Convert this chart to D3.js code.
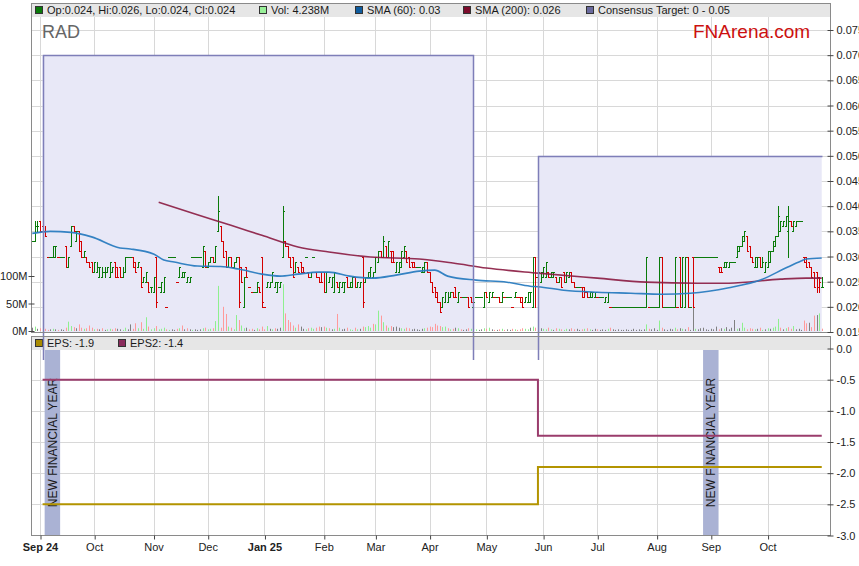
<!DOCTYPE html>
<html><head><meta charset="utf-8">
<script src="https://cdn.jsdelivr.net/npm/d3@7/dist/d3.min.js"></script>
<style>body{margin:0;background:#fff;} svg{display:block;font-family:Arial,"Liberation Sans",Helvetica,sans-serif;}</style>
</head><body>
<svg id="c" width="859" height="566"></svg>
<script>
// ---------- DATA ----------
// bar index = weekday count from Mon 2 Sep 2024 (index 0); first bar is index -3 (28 Aug 2024)
const firstIndex = -3;
// OHLC in thousandths of a dollar (0.001)
const ohlc = [
[33,33,33,33],[33,37,33,36],[36,37,35,36],[37,37,35,35],[36,37,35,35],[35,36,34,34],[30,30,30,30],[30,30,30,30],[30,32,30,32],[30,32,30,32],
[30,30,30,30],[30,30,30,30],[30,30,30,30],[32,32,28,28],[28,30,28,30],[32,36,32,36],[36,36,35,35],[33,35,33,35],[35,35,31,31],[33,33,30,30],
[30,31,30,31],[30,30,29,29],[29,29,28,28],[29,29,27,27],[27,29,27,29],[27,29,27,28],[26,28,26,28],[26,28,26,27],[27,28,26,27],[27,28,27,28],
[26,29,26,29],[27,28,27,28],[29,29,26,26],[28,28,26,26],[28,28,26,26],[26,28,26,27],[27,30,27,30],[30,30,30,30],[30,30,30,30],[30,30,28,28],
[29,29,27,27],[28,29,28,29],[28,28,24,24],[25,26,25,26],[25,27,25,27],[25,25,23,23],[24,24,23,24],[23,26,23,26],[30,30,20,21],[24,24,24,24],
[23,25,23,25],[23,26,23,26],[20,20,20,20],[30,30,30,30],[30,30,30,30],[30,30,30,30],[25,25,25,25],[26,28,26,28],[26,27,26,27],[26,27,26,27],
[25,26,25,26],[25,26,25,26],[30,30,30,30],[30,30,30,30],[30,30,30,30],[30,30,30,30],[28,32,28,32],[31,31,28,28],[28,29,28,29],[29,30,29,30],
[30,30,29,29],[29,32,29,32],[35,42,35,39],[36,36,33,33],[33,33,30,30],[31,31,28,28],[28,30,28,30],[30,30,28,28],[28,29,28,29],[29,30,29,30],
[30,30,20,21],[28,28,25,25],[20,26,20,26],[28,28,26,26],[24,24,24,24],[23,23,23,23],[23,23,23,23],[23,25,23,25],[24,24,23,23],[30,30,20,21],
[20,20,20,20],[24,25,24,25],[24,25,24,25],[25,27,25,27],[24,25,24,25],[23,25,23,25],[24,25,24,25],[30,40,30,39],[33,33,32,32],[32,32,30,30],
[30,30,28,28],[30,30,26,26],[27,29,27,29],[28,28,27,27],[29,29,27,27],[28,28,27,27],[30,30,30,30],[27,27,26,26],[26,27,26,27],[30,30,30,30],
[27,27,26,26],[26,26,25,25],[27,27,25,25],[27,27,23,23],[23,27,23,27],[25,26,25,26],[24,26,24,26],[23,27,23,27],[25,25,24,24],[23,25,23,25],
[24,25,24,25],[23,25,23,25],[26,26,24,24],[24,25,24,25],[24,26,24,26],[26,26,24,24],[24,25,24,25],[24,25,24,25],[30,30,20,21],[25,26,25,26],
[26,27,26,27],[26,28,26,28],[26,27,26,27],[27,30,27,30],[29,31,29,31],[31,31,30,30],[30,34,30,33],[32,32,30,30],[30,33,30,33],[31,31,29,29],
[31,31,29,29],[27,29,27,29],[27,29,27,29],[28,31,28,31],[30,32,30,32],[31,31,29,29],[30,30,28,28],[29,29,28,28],[29,29,28,28],[28,28,28,28],
[28,28,28,28],[27,28,27,28],[27,29,27,29],[29,29,27,27],[27,27,25,25],[25,25,23,23],[24,24,22,22],[23,23,21,21],[21,21,19,19],[20,22,20,22],
[21,23,21,23],[21,23,21,22],[22,23,22,23],[23,23,22,22],[24,24,22,22],[21,23,21,23],[22,22,22,22],[22,22,22,22],[22,22,22,22],[22,22,20,20],
[22,22,21,21],[20,21,20,21],[22,22,22,22],[22,22,22,22],[22,22,22,22],[20,23,20,23],[23,23,22,22],[21,23,21,23],[22,23,22,23],[22,22,22,22],
[22,22,22,22],[22,22,21,21],[21,23,21,23],[22,22,22,22],[22,22,22,22],[22,22,22,22],[20,20,20,20],[22,23,22,23],[22,22,22,22],[22,22,21,21],
[22,22,20,20],[21,22,21,22],[21,23,21,23],[21,23,21,23],[20,30,20,30],[30,30,20,26],[26,27,25,27],[25,27,25,27],[26,28,26,28],[26,29,26,29],
[27,27,26,26],[26,27,26,27],[26,27,26,27],[26,26,25,25],[25,26,25,26],[26,26,24,24],[27,27,25,25],[25,27,25,27],[26,27,26,27],[27,27,25,25],
[25,25,24,24],[24,24,24,24],[24,24,24,24],[24,24,22,22],[24,24,22,23],[23,23,22,22],[22,23,22,23],[22,23,22,23],[22,23,22,23],[22,22,22,22],
[22,22,22,22],[22,22,22,22],[21,22,21,22],[21,23,21,23],[20,20,20,20],[20,20,20,20],[20,20,20,20],[20,20,20,20],[20,20,20,20],[20,20,20,20],
[20,20,20,20],[20,20,20,20],[20,20,20,20],[20,20,20,20],[20,20,20,20],[20,20,20,20],[20,20,20,20],[20,20,20,20],[20,30,20,30],[20,20,20,20],
[20,20,20,20],[20,20,20,20],[20,20,20,20],[20,30,20,30],[30,30,20,20],[20,20,20,20],[20,20,20,20],[20,20,20,20],[20,20,20,20],[20,30,20,30],
[20,20,20,20],[30,30,20,20],[20,30,20,30],[20,30,20,30],[30,30,20,20],[20,20,20,20],[30,30,20,20],[30,30,30,30],[30,30,30,30],[30,30,30,30],
[30,30,30,30],[30,30,30,30],[30,30,30,30],[30,30,30,30],[30,30,30,30],[30,30,30,30],[28,28,27,27],[28,28,27,27],[28,29,28,29],[28,29,28,29],
[28,29,28,29],[29,29,29,29],[29,29,29,29],[30,32,30,32],[31,32,31,32],[32,34,32,34],[33,35,33,35],[34,34,31,31],[32,32,30,30],[30,30,29,29],
[28,30,28,30],[28,30,28,30],[30,30,28,28],[28,30,28,29],[27,29,27,29],[28,31,28,31],[29,31,29,31],[31,33,31,33],[32,34,32,34],[34,40,34,38],
[35,37,35,37],[36,37,36,37],[36,38,36,38],[35,40,30,37],[37,37,36,36],[35,37,35,37],[36,37,36,37],[37,37,37,37],[37,37,37,37],[30,30,29,29],
[30,30,28,28],[29,29,28,28],[28,28,26,26],[27,27,24,24],[27,27,23,24],[26,26,23,25],[24,26,24,24]
];
// volume, millions
const volumes = [
6,8,4,5,3,4,2,3,4,3, 2,3,2,6,17,9,7,5,12,6, 4,5,10,6,3,4,3,5,2,3, 4,3,5,4,3,2,6,3,12,4,
14,5,16,4,25,8,3,5,9,3, 4,6,3,2,3,2,4,5,10,3, 5,3,2,3,2,3,5,6,3,4, 5,18,82,6,44,31,8,6,3,29,
20,10,5,6,3,4,2,5,3,8, 3,9,4,3,5,4,6,85,32,20, 16,10,6,12,8,4,3,5,6,4, 6,8,7,8,6,5,3,4,31,6,
3,4,6,3,2,6,3,4,8,7, 9,6,13,12,37,28,16,10,6,9, 7,8,6,5,4,6,5,3,4,3, 2,4,5,6,8,7,13,10,9,7,
8,5,3,4,6,5,3,2,3,5, 4,6,3,2,3,5,4,6,3,2, 2,3,4,2,3,2,4,3,2,3, 5,4,3,6,8,6,3,5,4,3,
6,3,2,5,4,3,2,4,3,5, 3,4,2,3,4,5,3,2,4,3, 2,3,2,4,6,3,2,3,2,2, 3,2,2,4,2,3,2,3,12,4,
3,5,2,19,6,3,2,4,3,6, 3,5,4,3,7,2,55,4,3,5, 6,3,2,4,3,8,3,5,4,7, 3,6,20,4,5,15,6,3,5,4,
3,4,6,2,3,5,4,6,8,22, 6,3,5,7,4,9,3,4,2,19, 14,15,7,28,29,32,4.238
];
const sma60Idx = [-3,4,12,20,31,35,44,48,52,61,70,77,86,93,100,108,112,120,129,138,147,153,158,169,181,190,193,203,216,229,241,252,267,280,289,295,297,303];
const sma60Val = [.0346,.0350,.0348,.0339,.0317,.0315,.0305,.0293,.0289,.0281,.0280,.0275,.0265,.0261,.0265,.0269,.0269,.0261,.0257,.0263,.0271,.0273,.0261,.0253,.0249,.0241,.0240,.0233,.0229,.0227,.0225,.0227,.0238,.0255,.0277,.0291,.0295,.0297];
const sma200Idx = [46,61,74,86,100,112,128,147,160,173,193,216,235,255,267,287,297,303];
const sma200Val = [.0408,.0383,.0362,.0342,.0319,.0309,.0299,.0295,.0287,.0277,.0267,.0257,.0249,.0247,.0247,.0255,.0257,.0257];
const targetStart = [1,193], targetEnd = [168,303], targetHigh = [0.07,0.05], targetLow = [0,0];
const epsIdx = [1,193,303];
const eps1 = [-2.5,-1.9,-1.9];
const eps2 = [-0.5,-1.4,-1.4];
const fyStart = [1.8,257], fyEnd = [7.8,263];
const fyLabel = "NEW FINANCIAL YEAR";
const monthIdx = [0,21,44,65,87,110,130,151,173,195,216,239,260,282];
const monthLabels = ["Sep 24","Oct","Nov","Dec","Jan 25","Feb","Mar","Apr","May","Jun","Jul","Aug","Sep","Oct"];
const boldLabels = ["Sep 24","Jan 25"];
const priceTicks = [0.015,0.02,0.025,0.03,0.035,0.04,0.045,0.05,0.055,0.06,0.065,0.07,0.075];
const epsTicks = [0,-0.5,-1,-1.5,-2,-2.5,-3];
const volTicks = [0,50,100];
const legendTop = ["Op:0.024, Hi:0.026, Lo:0.024, Cl:0.024","Vol: 4.238M","SMA (60): 0.03","SMA (200): 0.026","Consensus Target: 0 - 0.05"];
const legendTopColors = ["#0a7a0a","#98f098","#0f5c9e","#7c0c2c","#6a6a9e"];
const legendBottom = ["EPS: -1.9","EPS2: -1.4"];
const legendBottomColors = ["#a88a00","#8a2c5c"];

// ---------- LAYOUT ----------
const L = 31, R = 831, T1 = 3, B1 = 332, T2 = 336, B2 = 535;
const svg = d3.select("#c");
const x = d3.scaleLinear().domain([-3.49, 306.2]).range([31, 830]);
const yP = d3.scaleLinear().domain([0.015, 0.075]).range([332, 30]);
const yV = d3.scaleLinear().domain([0, 100]).range([331, 276]);
const yE = d3.scaleLinear().domain([0, -3]).range([348.5, 535.5]);

const defs = svg.append("defs");
defs.append("clipPath").attr("id","cp1").append("rect").attr("x",L).attr("y",T1).attr("width",R-L).attr("height",B1-T1);
defs.append("clipPath").attr("id","cp2").append("rect").attr("x",L).attr("y",T2).attr("width",R-L).attr("height",B2-T2);
defs.append("clipPath").attr("id","cpT").append("rect").attr("x",L).attr("y",T1).attr("width",R-L).attr("height",360-T1);

// ---------- UPPER PANEL ----------
const up = svg.append("g").attr("clip-path","url(#cp1)");
up.append("rect").attr("x",L).attr("y",T1).attr("width",R-L).attr("height",B1-T1).attr("fill","#fff");
up.selectAll("line.hg").data(priceTicks.slice(1)).join("line")
  .attr("x1",L).attr("x2",R).attr("y1",d=>Math.round(yP(d))+0.5).attr("y2",d=>Math.round(yP(d))+0.5)
  .attr("stroke","#d8d8d8");
up.selectAll("line.vg").data(monthIdx).join("line")
  .attr("x1",d=>Math.round(x(d))+0.5).attr("x2",d=>Math.round(x(d))+0.5).attr("y1",T1).attr("y2",B1)
  .attr("stroke","#d8d8d8");

const targets = targetStart.map((s,k)=>({s, e:targetEnd[k], hi:targetHigh[k], lo:targetLow[k], open:k===targetStart.length-1}));
up.selectAll("rect.tgt").data(targets).join("rect")
  .attr("x",d=>x(d.s)).attr("width",d=>x(d.e)-x(d.s))
  .attr("y",d=>yP(d.hi)).attr("height",d=>yP(d.lo)-yP(d.hi))
  .attr("fill","#e8e8f7");

up.append("text").attr("x",42).attr("y",38).attr("font-size",18).attr("fill","#666").text("RAD");
up.append("text").attr("x",693).attr("y",38).attr("font-size",19).attr("fill","#cc1010").text("FNArena.com");

// bars data
const bars = ohlc.map((d,k)=>({i:firstIndex+k,o:d[0]/1000,h:d[1]/1000,l:d[2]/1000,c:d[3]/1000,v:volumes[k]}));
bars.forEach((b,k)=>{ const pc = k ? bars[k-1].c : b.o; b.dir = b.c>pc+1e-9 ? 1 : (b.c<pc-1e-9 ? -1 : 0); });
const barColor = b => (b.h===b.l) ? (b.dir<0 ? "#d40000" : "#0a7a0a") : (b.c>=b.o ? "#0a7a0a" : "#d40000");

// volume
up.selectAll("rect.vol").data(bars).join("rect")
  .attr("x",d=>Math.round(x(d.i))).attr("width",1)
  .attr("y",d=>yV(d.v)).attr("height",d=>yV(0)-yV(d.v))
  .attr("fill",d=>d.dir>0?"#8ef08e":(d.dir<0?"#ff9a9a":"#808080"));

// OHLC bars
up.selectAll("path.bar").data(bars).join("path")
  .attr("d",d=>{
    const cx = Math.round(x(d.i))+0.5;
    const yo = Math.round(yP(d.o))+0.5, yc = Math.round(yP(d.c))+0.5;
    const yh = Math.round(yP(d.h)), yl = Math.round(yP(d.l))+1;
    let p = `M${cx-1.5},${yo}H${cx}M${cx},${yc}H${cx+1.5}`;
    if (d.h!==d.l) p += `M${cx},${yh}V${yl}`;
    return p;
  })
  .attr("fill","none").attr("stroke",barColor).attr("stroke-width",1).attr("shape-rendering","crispEdges");

// SMA lines
const smaLine = d3.line().x(d=>x(d[0])).y(d=>yP(d[1])).curve(d3.curveMonotoneX);
up.append("path").datum(sma200Idx.map((d,k)=>[d,sma200Val[k]]))
  .attr("d",smaLine).attr("fill","none").attr("stroke","#8a1a40").attr("stroke-width",1.6).attr("stroke-opacity",0.9);
up.append("path").datum(sma60Idx.map((d,k)=>[d,sma60Val[k]]))
  .attr("d",smaLine).attr("fill","none").attr("stroke","#2a7cc0").attr("stroke-width",1.6).attr("stroke-opacity",0.95);

// ---------- LOWER PANEL ----------
const lo = svg.append("g").attr("clip-path","url(#cp2)");
lo.append("rect").attr("x",L).attr("y",T2).attr("width",R-L).attr("height",B2-T2).attr("fill","#fff");
lo.selectAll("line.hg").data(epsTicks.slice(1,-1)).join("line")
  .attr("x1",L).attr("x2",R).attr("y1",d=>Math.round(yE(d))+0.5).attr("y2",d=>Math.round(yE(d))+0.5)
  .attr("stroke","#d8d8d8");
lo.selectAll("line.vg").data(monthIdx).join("line")
  .attr("x1",d=>Math.round(x(d))+0.5).attr("x2",d=>Math.round(x(d))+0.5).attr("y1",T2).attr("y2",B2)
  .attr("stroke","#d8d8d8");
const fy = fyStart.map((s,k)=>({s,e:fyEnd[k]}));
lo.selectAll("rect.fy").data(fy).join("rect")
  .attr("x",d=>x(d.s)).attr("width",d=>x(d.e)-x(d.s)).attr("y",350).attr("height",B2-350)
  .attr("fill","#aab2d4");
lo.selectAll("text.fy").data(fy).join("text")
  .attr("transform",d=>`translate(${(x(d.s)+x(d.e))/2+4.5},${(350+B2)/2}) rotate(-90)`)
  .attr("text-anchor","middle").attr("font-size",12).attr("fill","#1a1a1a").text(fyLabel);
const stepLine = d3.line().x(d=>x(d[0])).y(d=>yE(d[1])).curve(d3.curveStepAfter);
lo.append("path").datum(epsIdx.map((d,k)=>[d,eps2[k]])).attr("d",stepLine)
  .attr("fill","none").attr("stroke","#9a3c6c").attr("stroke-width",2);
lo.append("path").datum(epsIdx.map((d,k)=>[d,eps1[k]])).attr("d",stepLine)
  .attr("fill","none").attr("stroke","#b39400").attr("stroke-width",2);

// ---------- LEGEND BANDS ----------
function band(y0, labels, colors, xs){
  svg.append("rect").attr("x",L).attr("y",y0).attr("width",R-L).attr("height",14).attr("fill","#e6e6e6");
  labels.forEach((t,k)=>{
    svg.append("rect").attr("x",xs[k]+0.5).attr("y",y0+3.5).attr("width",7).attr("height",7)
      .attr("fill",colors[k]).attr("stroke","#333").attr("stroke-width",1);
    svg.append("text").attr("x",xs[k]+12).attr("y",y0+11).attr("font-size",11).attr("fill","#1a1a1a").text(t);
  });
}
band(T1, legendTop, legendTopColors, [35,259,355,463,586]);
band(T2, legendBottom, legendBottomColors, [35,118]);

// ---------- TARGET OUTLINES ----------
svg.append("g").attr("clip-path","url(#cpT)").selectAll("path.tgt").data(targets).join("path")
  .attr("d",d=>{
    const x0 = Math.round(x(d.s))+0.5, x1 = Math.round(x(d.e))+0.5, yt = Math.round(yP(d.hi))+0.5, yb = yP(d.lo);
    return `M${x0},${yb}V${yt}H${x1}` + (d.open ? "" : `V${yb}`);
  })
  .attr("fill","none").attr("stroke","#7e7eb8").attr("stroke-width",1.5);

// ---------- FRAMES & AXES ----------
svg.append("rect").attr("x",L+0.5).attr("y",T1+0.5).attr("width",R-L-1).attr("height",B1-T1).attr("fill","none").attr("stroke","#8a8a8a");
svg.append("rect").attr("x",L+0.5).attr("y",T2+0.5).attr("width",R-L-1).attr("height",B2-T2).attr("fill","none").attr("stroke","#8a8a8a");

function styleAxis(g){
  g.select(".domain").remove();
  g.selectAll(".tick line").attr("stroke","#444");
  g.selectAll("text").attr("font-size",11).attr("fill","#222").attr("font-family","Arial, 'Liberation Sans', sans-serif");
}
const gP = svg.append("g").attr("transform",`translate(${R-0.5},0)`)
  .call(d3.axisRight(yP).tickValues(priceTicks).tickFormat(d=>d.toFixed(3)).tickSize(3).tickPadding(3));
styleAxis(gP); gP.selectAll(".tick line").attr("x1",-3);
const gE = svg.append("g").attr("transform",`translate(${R-0.5},0)`)
  .call(d3.axisRight(yE).tickValues(epsTicks).tickFormat(d=>d.toFixed(1)).tickSize(3).tickPadding(3));
styleAxis(gE); gE.selectAll(".tick line").attr("x1",-3);
const gV = svg.append("g").attr("transform",`translate(${L+0.5},0)`)
  .call(d3.axisLeft(yV).tickValues(volTicks).tickFormat(d=>d+"M").tickSize(3).tickPadding(1));
styleAxis(gV); gV.selectAll(".tick line").attr("x1",3);
const gX = svg.append("g").attr("transform",`translate(0,${B2+0.5})`)
  .call(d3.axisBottom(x).tickValues(monthIdx).tickFormat((d,k)=>monthLabels[k]).tickSize(4).tickPadding(4));
styleAxis(gX);
gX.selectAll(".tick line").attr("transform","translate(0.5,0)");
gX.selectAll("text").attr("font-weight",(d,k)=>boldLabels.includes(monthLabels[k])?"bold":"normal");
</script>
</body></html>
